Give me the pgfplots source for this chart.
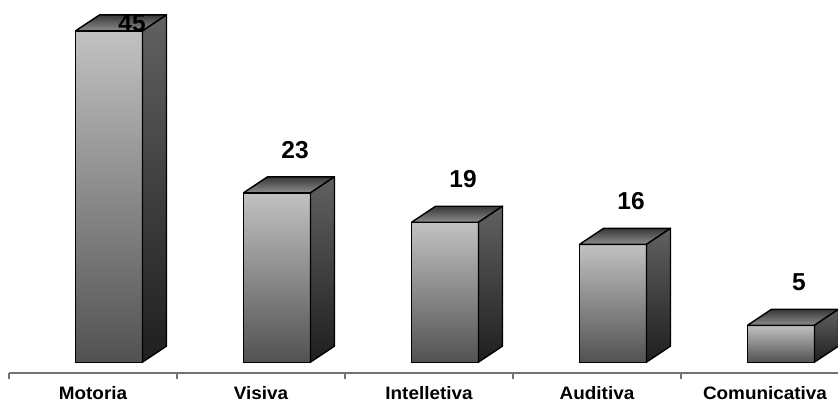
\documentclass[border=0pt]{standalone}
\usepackage{pgfplots}
\usepackage{pgfplotstable}
\pgfplotsset{compat=1.18}
\usepackage{fontspec}
\setmainfont{Liberation Sans}
\newfontfamily\lblfont{Liberation Sans}[FakeStretch=1.05]

\pgfplotstableread{
x y
0 45
1 23
2 19
3 16
4 5
}\datatable

\begin{document}
\begin{tikzpicture}
\begin{axis}[
  x=168bp, y=7.36bp,
  xmin=-0.5, xmax=4.5,
  ymin=-1.5, ymax=49.2,
  clip=false,
  axis x line=bottom,
  axis y line=none,
  x axis line style={-, draw=black!55, line width=1.3bp},
  xtick={0,1,2,3,4},
  xticklabels={Motoria, Visiva, Intelletiva, Auditiva, Comunicativa},
  major tick length=0pt,
  minor xtick={-0.5,0.5,1.5,2.5,3.5,4.5},
  minor tick length=6bp,
  tick align=outside,
  minor tick style={draw=black!55, line width=1.2bp},
  xticklabel style={font=\lblfont\bfseries\fontsize{18bp}{21bp}\selectfont, anchor=north, inner sep=0pt, yshift=-13bp},
  /pgf/number format/assume math mode=true,
]
% shaded faces of the 3D bars
\addplot[
  only marks, mark=*, mark size=0pt,
  scatter,
  visualization depends on={rawy \as \val},
  scatter/@pre marker code/.code={%
    \pgfmathsetlengthmacro\hh{\val*7.36bp}%
    \path[top color=black!24, bottom color=black!68]
      (-17.5bp,0pt) rectangle (49.5bp,-\hh);
    \path[draw=black, line width=1.4bp, line join=round, top color=black!78, bottom color=black!45]
      (-17.5bp,0pt) -- (49.5bp,0pt) -- (73.5bp,16bp) -- (6.5bp,16bp) -- cycle;
    \path[draw=black, line width=1.4bp, line join=round, top color=black!62, bottom color=black!88]
      (49.5bp,0pt) -- (73.5bp,16bp) -- (73.5bp,16bp-\hh) -- (49.5bp,-\hh) -- cycle;
  },
  scatter/@post marker code/.code={},
] table[x=x,y=y]{\datatable};
% front faces (outline)
\addplot[
  ybar, bar width=67bp, bar shift=16bp,
  draw=black, line width=1.4bp, fill=none,
] table[x=x,y=y]{\datatable};
% value labels
\addplot[
  draw=none, mark=none,
  restrict y to domain=0:40,
  nodes near coords,
  every node near coord/.append style={anchor=center, xshift=34bp, yshift=43bp,
     font=\bfseries\fontsize{24.5bp}{27bp}\selectfont, text=black},
] table[x=x,y=y]{\datatable};
\addplot[
  draw=none, mark=none,
  restrict y to domain=40:100,
  nodes near coords,
  every node near coord/.append style={anchor=center, xshift=39bp, yshift=8bp,
     font=\bfseries\fontsize{24.5bp}{27bp}\selectfont, text=black},
] table[x=x,y=y]{\datatable};
\coordinate (TL) at (axis cs:-0.5536,49.2);
\coordinate (BR) at (axis cs:4.4345,-1.5);
\end{axis}
\pgfresetboundingbox
\useasboundingbox (TL) rectangle ([yshift=-30bp]BR);
\end{tikzpicture}
\end{document}
